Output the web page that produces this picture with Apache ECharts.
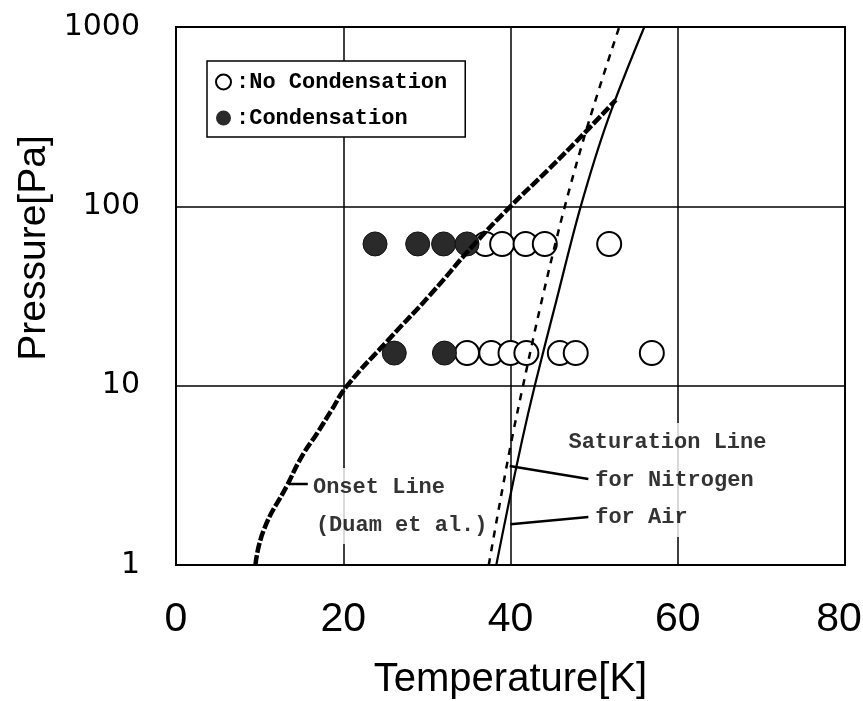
<!DOCTYPE html>
<html><head><meta charset="utf-8">
<script src="https://cdn.jsdelivr.net/npm/echarts@6/dist/echarts.min.js"></script>
<style>html,body{margin:0;padding:0;background:#fff}#c{width:863px;height:701px}</style>
</head><body><div id="c"></div><script>
// ---- data ----
const xTicks = [0, 20, 40, 60, 80];
const yTickLabels = ['1', '10', '100', '1000'];

// Upper row (~62 Pa) and lower row (~15 Pa) measurements
const condT = [23.8, 28.9, 32.0, 34.8, 26.1, 32.1];
const condP = [61.7, 61.7, 61.7, 61.7, 15.2, 15.2];
const noCondT = [37.0, 39.0, 41.8, 44.1, 51.8, 34.8, 37.7, 40.0, 41.9, 45.9, 47.8, 56.9];
const noCondP = [61.7, 61.7, 61.7, 61.7, 61.7, 15.2, 15.2, 15.2, 15.2, 15.2, 15.2, 15.2];

// Onset line (Duam et al.)
const onsetT = [9.5, 10.5, 13.3, 15.0, 16.9, 18.6, 20.4, 25.4, 30.4, 35.7, 40.0, 44.5, 48.4, 52.6];
const onsetP = [1.0, 1.57, 2.79, 4.0, 5.45, 7.3, 9.9, 18.0, 32.1, 61.7, 100, 160, 244, 392];

// Saturation line for nitrogen (dotted)
const n2T = [37.4, 38.55, 40.15, 41.5, 43.75, 46.5, 49.4, 53.0];
const n2P = [1, 2, 5, 10, 30, 100, 300, 1000];

// Saturation line for air (solid)
const airT = [38.3, 39.6, 41.4, 42.9, 45.5, 48.4, 51.6, 56.0];
const airP = [1, 2, 5, 10, 30, 100, 300, 1000];

// Annotations
const noteText = ['Onset Line', '(Duam et al.)', 'Saturation Line', 'for Nitrogen', 'for Air'];
const noteT = [15.9, 16.25, 46.45, 49.65, 49.65];
const noteP = [2.72, 1.67, 4.85, 2.98, 1.83];
const leaderOnsetT = [13.49, 15.76], leaderOnsetP = [2.83, 2.83];
const leaderN2T = [39.9, 49.31], leaderN2P = [3.56, 3.02];
const leaderAirT = [40.0, 49.31], leaderAirP = [1.69, 1.85];

const zip = (a, b) => a.map((v, i) => [v, b[i]]);
const leader = (t, p) => ({
  type: 'line', data: zip(t, p), symbol: 'none', silent: true, z: 4,
  lineStyle: {color: '#000', width: 2.5}
});

const chart = echarts.init(document.getElementById('c'));
chart.setOption({
  backgroundColor: '#fff',
  animation: false,
  grid: {left: 176, right: 18, top: 27, bottom: 136, show: true, borderColor: '#000', borderWidth: 2,
    outerBoundsMode: 'none', containLabel: false},
  legend: {
    orient: 'vertical', left: 207, top: 61,
    backgroundColor: '#fff', borderColor: '#000', borderWidth: 1.5,
    padding: [10, 18, 8, 8], itemGap: 14, itemWidth: 15, itemHeight: 15,
    data: [
      {name: 'No Condensation', icon: 'circle', itemStyle: {color: '#fff', borderColor: '#000', borderWidth: 2}},
      {name: 'Condensation', icon: 'circle', itemStyle: {color: '#2a2a2a', borderWidth: 0}}
    ],
    formatter: n => ':' + n,
    textStyle: {fontFamily: 'Liberation Mono', fontSize: 22, fontWeight: 'bold', color: '#000', lineHeight: 22}
  },
  xAxis: {
    type: 'value', min: xTicks[0], max: xTicks[xTicks.length - 1], interval: 20,
    name: 'Temperature[K]', nameLocation: 'middle', nameGap: 95, nameMoveOverlap: false,
    nameTextStyle: {fontFamily: 'Liberation Sans', fontSize: 40, color: '#000'},
    axisLine: {show: true, lineStyle: {color: '#000', width: 2}},
    axisTick: {show: false},
    axisLabel: {margin: 34, fontFamily: 'Liberation Sans', fontSize: 41, color: '#000',
      formatter: v => v === xTicks[xTicks.length - 1] ? '{last|' + v + '}' : String(v),
      rich: {last: {fontFamily: 'Liberation Sans', fontSize: 41, color: '#000', padding: [0, 12, 0, 0]}}},
    splitLine: {show: true, lineStyle: {color: '#000', width: 1.5}}
  },
  yAxis: {
    type: 'log', logBase: 10, min: 1, max: 1000,
    name: 'Pressure[Pa]', nameLocation: 'middle', nameGap: 122, nameMoveOverlap: false,
    nameTextStyle: {fontFamily: 'Liberation Sans', fontSize: 39, color: '#000', padding: [0, 0, 0, 96]},
    axisLine: {show: true, lineStyle: {color: '#000', width: 2}},
    axisTick: {show: false},
    axisLabel: {margin: 36, fontFamily: 'DejaVu Sans', fontSize: 30, color: '#000',
      formatter: v => yTickLabels[Math.round(Math.log10(v))]},
    splitLine: {show: true, lineStyle: {color: '#000', width: 1.5}}
  },
  series: [
    {name: 'No Condensation', type: 'scatter', data: zip(noCondT, noCondP), symbol: 'circle', symbolSize: 24, z: 2,
      itemStyle: {color: '#fff', borderColor: '#000', borderWidth: 2, opacity: 1}},
    {name: 'Condensation', type: 'scatter', data: zip(condT, condP), symbol: 'circle', symbolSize: 24, z: 3,
      itemStyle: {color: '#2a2a2a', borderColor: '#111', borderWidth: 1, opacity: 1}},
    {name: 'Onset', type: 'line', data: zip(onsetT, onsetP), symbol: 'none', smooth: 0.5, z: 4,
      lineStyle: {color: '#000', width: 4.5, type: [10, 2.5]}},
    {name: 'N2', type: 'line', data: zip(n2T, n2P), symbol: 'none', smooth: 0.35, z: 4,
      lineStyle: {color: '#000', width: 2.5, type: [7, 7]}},
    {name: 'Air', type: 'line', data: zip(airT, airP), symbol: 'none', smooth: 0.35, z: 4,
      lineStyle: {color: '#000', width: 2.2}},
    leader(leaderOnsetT, leaderOnsetP),
    leader(leaderN2T, leaderN2P),
    leader(leaderAirT, leaderAirP),
    {name: 'Notes', type: 'scatter', silent: true, symbolSize: 0, z: 5,
      itemStyle: {color: 'rgba(0,0,0,0)'},
      data: noteT.map((t, i) => ({value: [t, noteP[i]], name: noteText[i]})),
      label: {show: true, position: 'right', distance: 0, formatter: p => p.name,
        fontFamily: 'Liberation Mono', fontSize: 22, fontWeight: 'bold', color: '#000', lineHeight: 38,
        backgroundColor: '#fff', padding: [0, 4]}}
  ]
});
</script></body></html>
